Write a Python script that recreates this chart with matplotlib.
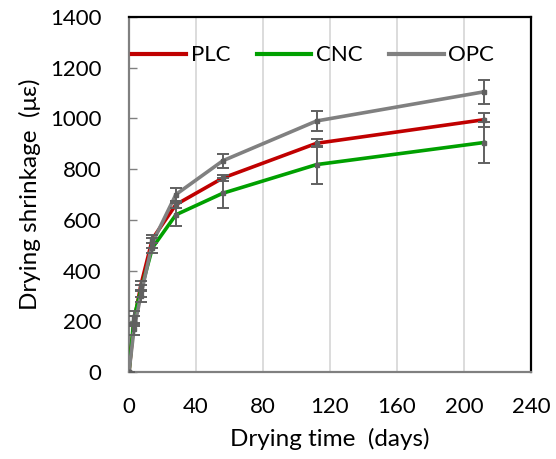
import matplotlib
matplotlib.use("Agg")
import matplotlib.pyplot as plt

days = [0, 3, 7, 14, 28, 56, 112, 212]
plc = [0, 200, 340, 525, 660, 765, 902, 995]
cnc = [0, 215, 320, 490, 620, 705, 818, 905]
opc = [0, 170, 300, 510, 700, 833, 990, 1105]
plc_err = [0, 20, 20, 15, 15, 12, 15, 28]
cnc_err = [0, 25, 25, 20, 45, 60, 75, 80]
opc_err = [0, 25, 25, 20, 25, 27, 38, 47]
xticks = [0, 40, 80, 120, 160, 200, 240]
yticks = [0, 200, 400, 600, 800, 1000, 1200, 1400]

plt.rcParams['font.family'] = ['Lato', 'DejaVu Sans']

fig = plt.figure(figsize=(5.56, 4.59), dpi=100)
ax = fig.add_axes([0.232, 0.1895, 0.723, 0.7735])

series = [("PLC", plc, plc_err, "#C00000"),
          ("CNC", cnc, cnc_err, "#00A000"),
          ("OPC", opc, opc_err, "#808080")]
for i, (name, vals, err, col) in enumerate(series):
    ax.plot(days, vals, color=col, lw=2.6, label=name, zorder=3 + i,
            solid_joinstyle='miter')
for i, (name, vals, err, col) in enumerate(series):
    ax.errorbar(days, vals, yerr=err, fmt='none', ecolor='#606060',
                elinewidth=1.4, capsize=4, capthick=1.4, zorder=8)
    ax.plot(days, vals, ls='none', marker='s', ms=3.5, mfc='#606060',
            mec='#606060', zorder=9)

ax.set_xlim(0, 240)
ax.set_ylim(0, 1400)
ax.set_xticks(xticks)
ax.set_yticks(yticks)
ax.grid(axis='x', color='#d9d9d9', lw=1.3)
ax.set_axisbelow(True)

for s in ['left', 'bottom']:
    ax.spines[s].set_color('#808080')
    ax.spines[s].set_linewidth(1.6)
for s in ['top', 'right']:
    ax.spines[s].set_color('black')
    ax.spines[s].set_linewidth(1.6)

ax.tick_params(axis='y', direction='in', length=6, width=1, color='#808080',
               pad=20, labelsize=16)
ax.tick_params(axis='x', length=0, pad=18, labelsize=16)

ax.set_xlabel("Drying time  (days)", fontsize=17.5, labelpad=8)
ax.set_ylabel("Drying shrinkage  (\u03bc\u03b5)", fontsize=17.5, labelpad=6)

leg = ax.legend(loc='upper left', bbox_to_anchor=(-0.015, 0.945), ncol=3,
                frameon=False, fontsize=16, handlelength=2.45,
                handletextpad=0.2, columnspacing=1.2, borderaxespad=0)
for h in leg.get_lines():
    h.set_linewidth(3)

fig.savefig("out.png", dpi=100)
